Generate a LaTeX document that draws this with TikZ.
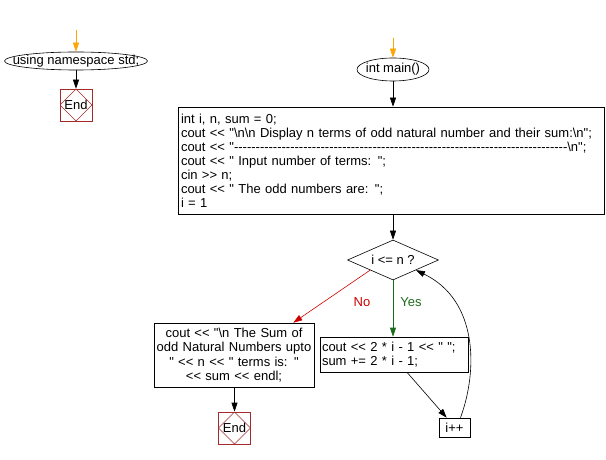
\documentclass[tikz,border=0pt]{standalone}
\usepackage{fontspec}
\newfontfamily\arialf{Liberation Sans}
\usetikzlibrary{shapes.geometric,arrows.meta}
\definecolor{endred}{HTML}{A52A2A}
\definecolor{nored}{HTML}{CC0000}
\definecolor{yesgreen}{HTML}{1E6B1E}
\definecolor{startorange}{HTML}{FFA500}
\begin{document}
\begin{tikzpicture}[x=1bp,y=-1bp,
  font=\arialf\fontsize{13bp}{14bp}\selectfont,
  arr/.style={-{Triangle[length=9bp,width=6bp]}, line width=0.6bp},
  oval/.style={draw, ellipse, inner sep=0pt, line width=0.6bp},
  procbox/.style={draw, rectangle, inner sep=2bp, line width=0.6bp},
  decision/.style={draw, diamond, aspect=2.275, inner sep=0pt, minimum width=91bp, minimum height=40bp, line width=0.6bp},
  endbox/.style={draw=endred, rectangle, minimum size=32bp, inner sep=0pt, line width=0.6bp,
    path picture={\draw[endred, line width=0.5bp] (path picture bounding box.north) -- (path picture bounding box.east) -- (path picture bounding box.south) -- (path picture bounding box.west) -- cycle;}}
]
\useasboundingbox (0,0) rectangle (606,460);

% left part
\coordinate (s1) at (76,30);
\node[oval, minimum width=143bp, minimum height=18bp] (ns) at (76,61) {\makebox[0pt]{using namespace std;}};
\node[endbox] (e1) at (76,105) {End};
\draw[arr, startorange] (s1) -- (ns.north);
\draw[arr] (ns.south) -- (e1.north);

% main part
\coordinate (s2) at (393,38);
\node[oval, minimum width=72bp, minimum height=23bp] (mn) at (393,69.5) {\makebox[0pt]{int main()}};
\node[procbox, minimum width=426bp, minimum height=107bp, text width=420bp, align=left] (init) at (391,160.5)
 {int i, n, sum = 0;\\
  cout << "\textbackslash n\textbackslash n Display n terms of odd natural number and their sum:\textbackslash n";\\
  cout << "-----------------------------------------------------------------------------\textbackslash n";\\
  cout << " Input number of terms: ";\\
  cin >> n;\\
  cout << " The odd numbers are: ";\\
  i = 1};
\node[decision] (dia) at (393,260) {i <= n ?};
\node[procbox, minimum width=160bp, minimum height=64bp, text width=158bp, inner sep=1bp, align=center, font=\arialf\fontsize{13bp}{14.3bp}\selectfont] (sumbox) at (234,355)
 {cout << "\textbackslash n The Sum of\\ odd Natural Numbers upto\\ " << n << " terms is: "\\ << sum << endl;};
\node[endbox] (e2) at (234.5,428) {End};
\node[procbox, minimum width=148bp, minimum height=35bp, text width=144bp, align=left] (body) at (394,354.5)
 {cout << 2 * i - 1 << " ";\\ sum += 2 * i - 1;};
\node[procbox, minimum width=31bp, minimum height=19bp, inner sep=0pt] (inc) at (454.5,427.5) {i++};
\node[text=nored] (nolbl) at (362,302) {No};
\node[text=yesgreen] (yeslbl) at (411,302) {Yes};

\draw[arr, startorange] (s2) -- (mn.north);
\draw[arr] (mn.south) -- (init.north -| mn.south);
\draw[arr] (init.south -| dia.north) -- (dia.north);
\draw[arr, nored] (dia.south west) -- ([xshift=-21bp]sumbox.north east);
\draw[arr, yesgreen] (dia.south) -- (body.north -| dia.south);
\draw[arr] (sumbox.south -| e2.north) -- (e2.north);
\draw[arr] ([xshift=13bp]body.south) -- ([xshift=8bp]inc.north west);
\draw[arr] ([xshift=6bp]inc.north) .. controls (478,370) and (478,300) .. (dia.south east);
\end{tikzpicture}
\end{document}
